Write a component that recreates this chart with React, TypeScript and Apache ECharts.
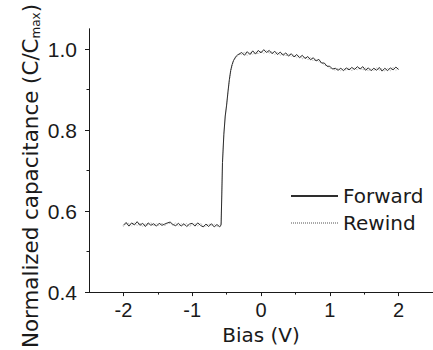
import React, { useEffect, useRef } from "react";
import * as echarts from "echarts";

const biasV = [
  -2.0, -1.96, -1.92, -1.88, -1.84, -1.8, -1.76, -1.72, -1.68, -1.64, -1.6, -1.56, -1.52, -1.48, -1.44, -1.4,
  -1.36, -1.32, -1.28, -1.24, -1.2, -1.16, -1.12, -1.08, -1.04, -1.0, -0.96, -0.92, -0.88, -0.84, -0.8, -0.76,
  -0.72, -0.68, -0.64, -0.6,
  -0.58, -0.57, -0.56, -0.54, -0.52, -0.5, -0.48, -0.46, -0.44, -0.42, -0.4, -0.38, -0.36, -0.34, -0.32,
  -0.28, -0.24, -0.2, -0.16, -0.12, -0.08, -0.04, 0.0, 0.04, 0.08, 0.12, 0.16, 0.2, 0.24, 0.28, 0.32, 0.36,
  0.4, 0.44, 0.48, 0.52, 0.56, 0.6, 0.64, 0.68, 0.72, 0.76, 0.8, 0.84, 0.88, 0.92, 0.96, 1.0, 1.04, 1.08,
  1.12, 1.16, 1.2, 1.24, 1.28, 1.32, 1.36, 1.4, 1.44, 1.48, 1.52, 1.56, 1.6, 1.64, 1.68, 1.72, 1.76, 1.8,
  1.84, 1.88, 1.92, 1.96, 2.0,
];

const forward = [
  0.565, 0.572, 0.563, 0.571, 0.566, 0.574, 0.565, 0.57, 0.562, 0.571, 0.565, 0.569, 0.563, 0.57, 0.565, 0.568,
  0.571, 0.573, 0.567, 0.564, 0.57, 0.563, 0.569, 0.562, 0.568, 0.57, 0.563, 0.571, 0.565, 0.561, 0.568, 0.562,
  0.569, 0.561, 0.567, 0.561,
  0.566, 0.64, 0.72, 0.79, 0.835, 0.862, 0.895, 0.925, 0.948, 0.962, 0.972, 0.978, 0.983, 0.986, 0.988,
  0.992, 0.985, 0.994, 0.987, 0.996, 0.988, 0.997, 0.991, 0.999, 0.992, 0.997, 0.989, 0.995, 0.987, 0.993, 0.985, 0.991,
  0.983, 0.989, 0.981, 0.987, 0.979, 0.985, 0.977, 0.982, 0.974, 0.979, 0.971, 0.975, 0.966, 0.966, 0.958, 0.958, 0.951, 0.953,
  0.948, 0.953, 0.947, 0.954, 0.949, 0.955, 0.95, 0.957, 0.951, 0.957, 0.948, 0.954, 0.947, 0.953, 0.948, 0.955, 0.946, 0.953,
  0.947, 0.954, 0.949, 0.956, 0.95,
];

const rewind = [
  0.562, 0.569, 0.57, 0.563, 0.572, 0.564, 0.571, 0.562, 0.569, 0.565, 0.572, 0.563, 0.57, 0.564, 0.571, 0.564,
  0.569, 0.57, 0.565, 0.571, 0.563, 0.569, 0.565, 0.57, 0.562, 0.567, 0.569, 0.563, 0.57, 0.564, 0.562, 0.569,
  0.564, 0.568, 0.561, 0.567,
  0.568, 0.64, 0.718, 0.788, 0.833, 0.86, 0.893, 0.922, 0.945, 0.96, 0.97, 0.976, 0.98, 0.984, 0.987,
  0.987, 0.993, 0.985, 0.992, 0.987, 0.994, 0.988, 0.996, 0.989, 0.997, 0.99, 0.994, 0.987, 0.992, 0.985, 0.99, 0.983,
  0.989, 0.982, 0.986, 0.979, 0.984, 0.976, 0.981, 0.974, 0.979, 0.971, 0.976, 0.969, 0.967, 0.961, 0.959, 0.953, 0.952, 0.948,
  0.953, 0.947, 0.952, 0.948, 0.954, 0.947, 0.953, 0.949, 0.955, 0.948, 0.954, 0.946, 0.952, 0.947, 0.954, 0.948, 0.952, 0.946,
  0.953, 0.947, 0.955, 0.948, 0.954,
];

const xMajorTicks = [-2, -1, 0, 1, 2];
const xMinorTicks = [-1.5, -0.5, 0.5, 1.5];
const yMajorTicks = [0.4, 0.6, 0.8, 1.0];
const yMinorTicks = [0.5, 0.7, 0.9];

const seriesNames = ["Forward", "Rewind"];
const yTitle = "Normalized capacitance (C/C{sub|max})";
const xTitle = "Bias (V)";

const FONT_NUM = "'Liberation Sans', Arial, sans-serif";
const FONT_TXT = "'DejaVu Sans', sans-serif";
const INK = "#1a1a1a";

export default function App() {
  const ref = useRef<HTMLDivElement>(null);
  useEffect(() => {
    if (!ref.current) return;
    const chart = echarts.init(ref.current, undefined, { renderer: "svg" });
    const pairs = (ys: number[]) => biasV.map((x, i) => [x, ys[i]]);
    const grid = { left: 89, right: 0, top: 29, bottom: 55 };
    const xBase = {
      type: "value" as const,
      min: -2.5,
      max: 2.5,
      splitLine: { show: false },
      axisLine: { show: true, onZero: false, lineStyle: { color: INK, width: 1 } },
    };
    const yBase = {
      type: "value" as const,
      min: 0.4,
      max: 1.05,
      splitLine: { show: false },
      axisLine: { show: true, onZero: false, lineStyle: { color: INK, width: 1 } },
    };
    chart.setOption({
      animation: false,
      backgroundColor: "#ffffff",
      grid,
      legend: {
        orient: "vertical",
        left: 285,
        top: 181,
        itemWidth: 47,
        itemHeight: 14,
        itemGap: 7,
        itemStyle: { opacity: 0 },
        textStyle: { fontFamily: FONT_TXT, fontSize: 20, color: INK },
        data: seriesNames,
      },
      xAxis: [
        {
          ...xBase,
          axisTick: { show: true, length: 4, customValues: xMajorTicks, lineStyle: { color: INK } },
          axisLabel: {
            customValues: xMajorTicks,
            margin: 8,
            fontFamily: FONT_NUM,
            fontSize: 20,
            color: INK,
          },
          name: xTitle,
          nameLocation: "middle",
          nameGap: 31,
          nameTextStyle: { fontFamily: FONT_TXT, fontSize: 20, color: INK },
        },
        {
          ...xBase,
          position: "bottom",
          axisTick: { show: true, length: 2.5, customValues: xMinorTicks, lineStyle: { color: INK } },
          axisLabel: { show: false },
        },
      ],
      yAxis: [
        {
          ...yBase,
          axisTick: { show: true, length: 4, customValues: yMajorTicks, lineStyle: { color: INK } },
          axisLabel: {
            customValues: yMajorTicks,
            margin: 12,
            fontFamily: FONT_NUM,
            fontSize: 21,
            color: INK,
            formatter: (v: number) => v.toFixed(1),
          },
        },
        {
          ...yBase,
          position: "left",
          axisTick: { show: true, length: 2.5, customValues: yMinorTicks, lineStyle: { color: INK } },
          axisLabel: { show: false },
        },
      ],
      graphic: [
        {
          type: "text",
          x: 30,
          y: 176,
          rotation: Math.PI / 2,
          style: {
            text: yTitle,
            fontFamily: FONT_TXT,
            fontSize: 21.4,
            fill: INK,
            align: "center",
            verticalAlign: "middle",
            rich: {
              sub: { fontFamily: FONT_TXT, fontSize: 12, fill: INK, padding: [12, 0, 0, 0] },
            },
          },
        },
      ],
      series: [
        {
          name: seriesNames[0],
          type: "line",
          xAxisIndex: 0,
          yAxisIndex: 0,
          data: pairs(forward),
          showSymbol: false,
          symbol: "none",
          lineStyle: { color: "#2e2e2e", width: 1 },
          itemStyle: { color: "#2e2e2e" },
          z: 3,
        },
        {
          name: seriesNames[1],
          type: "line",
          xAxisIndex: 0,
          yAxisIndex: 0,
          data: pairs(rewind),
          showSymbol: false,
          symbol: "none",
          lineStyle: { color: "#a8a8a8", width: 1, type: [1, 1] },
          itemStyle: { color: "#a8a8a8" },
          z: 2,
        },
      ],
    });
    return () => chart.dispose();
  }, []);
  return <div ref={ref} style={{ width: 433, height: 350, position: "absolute", left: 0, top: 0 }} />;
}
